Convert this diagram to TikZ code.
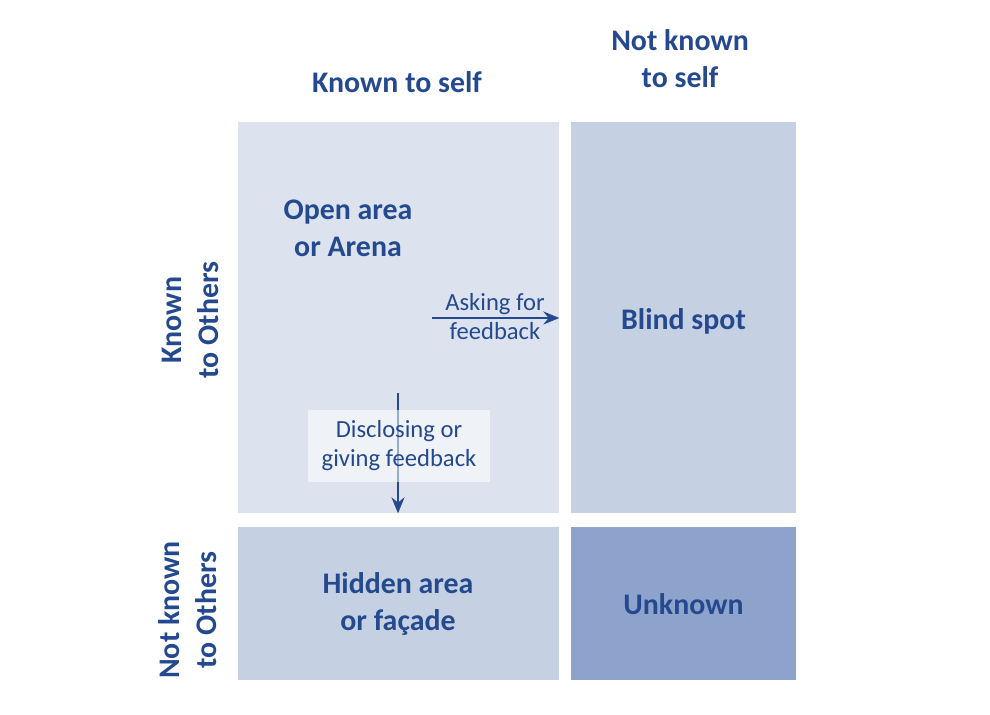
\documentclass[tikz,border=0pt]{standalone}
\usepackage{fontspec}
\setmainfont{Carlito}
\usetikzlibrary{arrows.meta}
\definecolor{ink}{HTML}{24498F}
\definecolor{openfill}{HTML}{DDE3EE}
\definecolor{midfill}{HTML}{C5D0E3}
\definecolor{darkfill}{HTML}{8EA3CB}
\begin{document}
\begin{tikzpicture}[>={Stealth[length=3.2mm,width=2.6mm]},
  quad/.style={rectangle, inner sep=0pt, minimum width=#1},
  big/.style={text=ink, align=center, font=\fontsize{17}{21}\selectfont\bfseries},
  small/.style={text=ink, align=center, font=\fontsize{14}{16.5}\selectfont}]
\useasboundingbox (0,0) rectangle (19.8,-14.3);

% the four panes
\node[quad=6.42cm, minimum height=7.82cm, fill=openfill] (open) at (7.97,-6.35) {};
\node[quad=4.5cm, minimum height=7.82cm, fill=midfill] (blind) at (13.67,-6.35) {};
\node[quad=6.42cm, minimum height=3.06cm, fill=midfill] (hidden) at (7.97,-12.07) {};
\node[quad=4.5cm, minimum height=3.06cm, fill=darkfill] (unknown) at (13.67,-12.07) {};

% headings
\node[big] (kself) at (7.94,-1.64) {Known to self};
\node[big] (nkself) at (13.6,-1.17) {Not known\\to self};
\node[big, rotate=90] (kothers) at (3.8,-6.4) {Known\\to Others};
\node[big, rotate=90] (nkothers) at (3.75,-12.2) {Not known\\to Others};

% pane labels
\node[big] (openlbl) at (6.96,-4.57) {Open area\\or Arena};
\node[big] (blindlbl) at (13.67,-6.42) {Blind spot};
\node[big] (hiddenlbl) at (7.96,-12.08) {Hidden area\\or façade};
\node[big] (unknownlbl) at (13.67,-12.08) {Unknown};

% feedback arrows
\coordinate (askstart) at (8.64,-6.36);
\draw[->, ink, line width=1.3pt] (askstart) -- (askstart -| open.east);
\node[small] (asklbl) at (9.9,-6.33) {Asking for\\feedback};

\coordinate (discstart) at (7.96,-7.86);
\draw[->, ink, line width=1.3pt] (discstart) -- (discstart |- open.south);
\node[small, fill=white, fill opacity=0.55, text opacity=1, minimum width=3.64cm, minimum height=1.44cm, inner sep=0pt] (disclbl) at (7.98,-8.92) {Disclosing or\\giving feedback};
\end{tikzpicture}
\end{document}
